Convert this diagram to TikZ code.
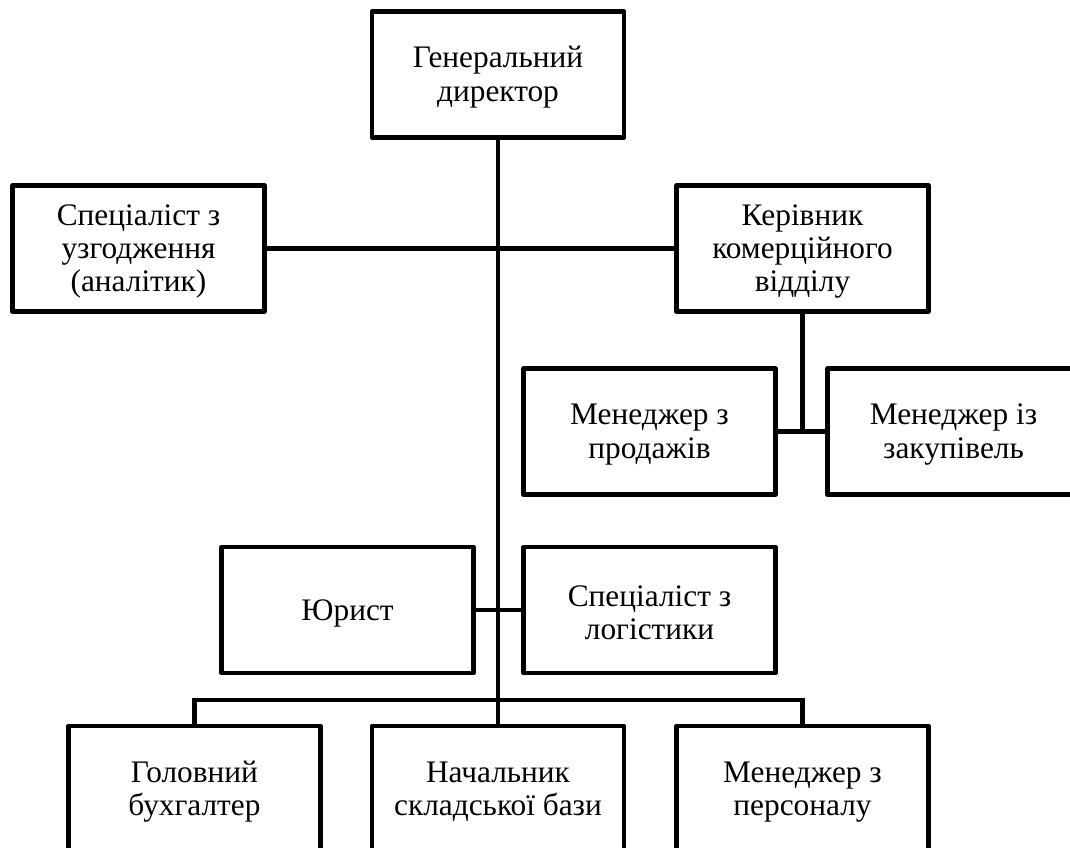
\documentclass[tikz,border=0pt]{standalone}
\usepackage{fontspec}
\setmainfont{Liberation Serif}
\newcommand{\firstline}{\rule{0pt}{20pt}}
\begin{document}
\begin{tikzpicture}[x=0.75pt,y=-0.75pt,
  box/.style={draw, line width=3.6pt, minimum width=189pt, minimum height=94.5pt,
    align=center, inner sep=0pt, line join=round,
    font=\fontsize{23.5}{25}\selectfont},
  link/.style={line width=3.6pt}]
\useasboundingbox (0,0) rectangle (1070,848);
\clip (0,0) rectangle (1070,848);
\node[box] (gd) at (498,74.5) {\firstline Генеральний\\директор};
\node[box] (spec) at (138.5,248.5) {\firstline Спеціаліст з\\узгодження\\(аналітик)};
\node[box] (kom) at (802.5,248.5) {\firstline Керівник\\комерційного\\відділу};
\node[box] (prod) at (649.5,431.5) {\firstline Менеджер з\\продажів};
\node[box] (zak) at (953.5,431.5) {\firstline Менеджер із\\закупівель};
\node[box] (yur) at (347.5,610) {\firstline Юрист};
\node[box] (log) at (649.5,610) {\firstline Спеціаліст з\\логістики};
\node[box] (gb) at (194.5,789) {\firstline Головний\\бухгалтер};
\node[box] (nsb) at (498,789) {\firstline Начальник\\складської бази};
\node[box] (mp) at (802.5,789) {\firstline Менеджер з\\персоналу};
\coordinate (bj) at (498,700);
\draw[link] (gd.south) -- (nsb.north);
\draw[link] (spec.east) -- (kom.west);
\draw[link] (kom.south) -- (kom.south |- prod.east);
\draw[link] (prod.east) -- (zak.west);
\draw[link] (yur.east) -- (log.west);
\draw[link] (gb.north) -- (gb.north |- bj) -- (mp.north |- bj) -- (mp.north);
\end{tikzpicture}
\end{document}
